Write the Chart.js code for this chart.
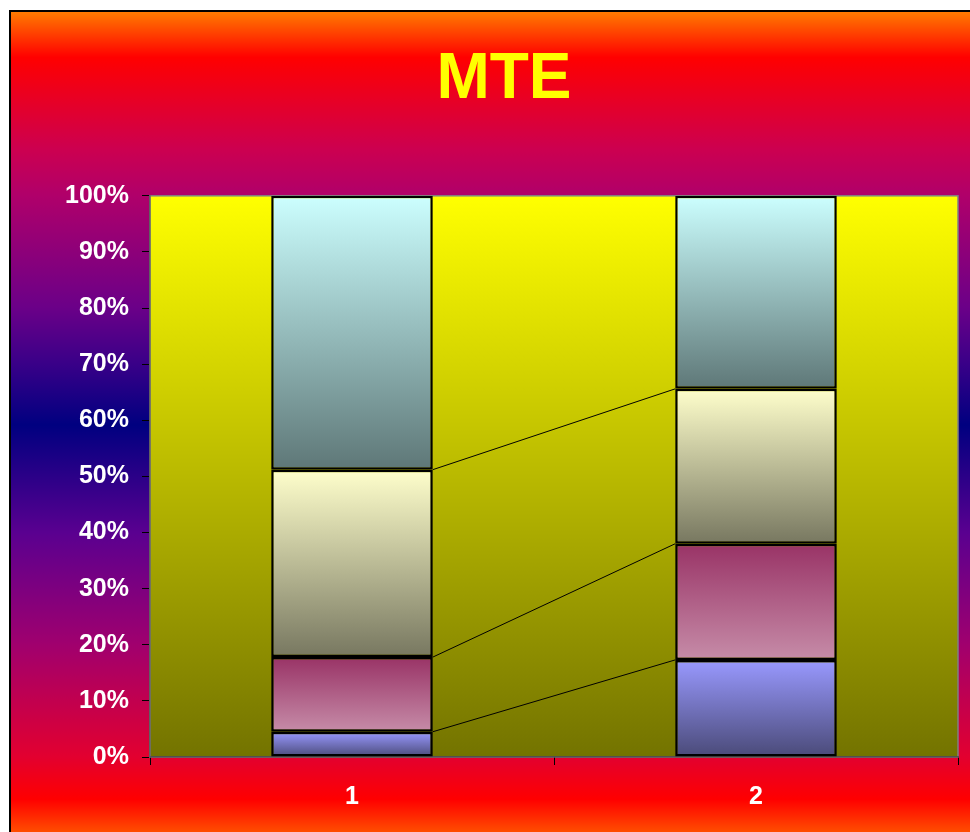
<!DOCTYPE html>
<html>
<head>
<meta charset="utf-8">
<script src="https://cdn.jsdelivr.net/npm/chart.js@4/dist/chart.umd.min.js"></script>
<style>
  html, body { margin: 0; padding: 0; background: #ffffff; overflow: hidden; width: 970px; height: 832px; }
  #c { position: absolute; left: 9px; top: 10px; }
</style>
</head>
<body>
<canvas id="c" width="990" height="830"></canvas>
<script>
// ---- data ----
const categories = ['1', '2'];
const seriesA = [4.5, 17.3];   // bottom (blue)
const seriesB = [13.3, 20.7];  // pink
const seriesC = [33.4, 27.6];  // cream
const seriesD = [48.8, 34.4];  // teal (top)
const titleText = 'MTE';
const yMin = 0, yMax = 100, yStep = 10;

// ---- styles ----
const gradStops = [
  ['#9999ff', '#4a4a78'],
  ['#993366', '#c68ca8'],
  ['#ffffcc', '#777760'],
  ['#ccffff', '#5e7777']
];
const allSeries = [seriesA, seriesB, seriesC, seriesD];

function segGradient(context) {
  const chart = context.chart;
  const ds = context.datasetIndex, i = context.dataIndex;
  const y = chart.scales.y;
  if (!chart.chartArea || !y || i === undefined) return gradStops[ds][0];
  let lo = 0;
  for (let k = 0; k < ds; k++) lo += allSeries[k][i];
  const hi = lo + allSeries[ds][i];
  const yTop = y.getPixelForValue(hi), yBot = y.getPixelForValue(lo);
  if (!isFinite(yTop) || !isFinite(yBot) || yTop === yBot) return gradStops[ds][0];
  const g = chart.ctx.createLinearGradient(0, yTop, 0, yBot);
  g.addColorStop(0, gradStops[ds][0]);
  g.addColorStop(1, gradStops[ds][1]);
  return g;
}

const bgPlugin = {
  id: 'bgPlugin',
  beforeDraw(chart) {
    const ctx = chart.ctx, W = chart.width, H = chart.height;
    ctx.save();
    const g = ctx.createLinearGradient(0, 0, 0, H);
    g.addColorStop(0.0, '#ff8000');
    g.addColorStop(0.057, '#ff0000');
    g.addColorStop(0.168, '#cc0050');
    g.addColorStop(0.223, '#b0006a');
    g.addColorStop(0.358, '#6b0088');
    g.addColorStop(0.425, '#3a0088');
    g.addColorStop(0.5, '#000080');
    g.addColorStop(0.63, '#5a0090');
    g.addColorStop(0.764, '#a0006e');
    g.addColorStop(0.899, '#e20030');
    g.addColorStop(0.951, '#ff0000');
    g.addColorStop(1.0, '#ff6000');
    ctx.fillStyle = g;
    ctx.fillRect(0, 0, W, H);
    ctx.strokeStyle = '#000000';
    ctx.lineWidth = 2;
    ctx.strokeRect(1, 1, W - 2, H - 2);
    // plot area
    const a = chart.chartArea;
    const pg = ctx.createLinearGradient(0, a.top, 0, a.bottom);
    pg.addColorStop(0, '#ffff00');
    pg.addColorStop(1, '#737300');
    ctx.fillStyle = pg;
    ctx.fillRect(a.left, a.top, a.right - a.left, a.bottom - a.top);
    ctx.strokeStyle = '#808080';
    ctx.lineWidth = 1.5;
    ctx.strokeRect(a.left, a.top, a.right - a.left, a.bottom - a.top);
    ctx.restore();
  }
};

const seriesLinePlugin = {
  id: 'seriesLines',
  afterDatasetsDraw(chart) {
    const ctx = chart.ctx, y = chart.scales.y;
    ctx.save();
    ctx.strokeStyle = '#000000';
    ctx.lineWidth = 1;
    for (let s = 0; s < allSeries.length - 1; s++) {
      const m0 = chart.getDatasetMeta(s).data[0];
      const m1 = chart.getDatasetMeta(s).data[1];
      let c0 = 0, c1 = 0;
      for (let k = 0; k <= s; k++) { c0 += allSeries[k][0]; c1 += allSeries[k][1]; }
      ctx.beginPath();
      ctx.moveTo(m0.x + m0.width / 2, y.getPixelForValue(c0));
      ctx.lineTo(m1.x - m1.width / 2, y.getPixelForValue(c1));
      ctx.stroke();
    }
    ctx.restore();
  }
};

const datasets = allSeries.map((arr, idx) => ({
  label: 'Series ' + (idx + 1),
  data: arr,
  backgroundColor: segGradient,
  borderColor: '#000000',
  borderWidth: 2.5,
  borderSkipped: false,
  barPercentage: 0.4,
  categoryPercentage: 1.0,
  yAxisID: 'y'
}));

new Chart(document.getElementById('c'), {
  type: 'bar',
  data: { labels: categories, datasets },
  plugins: [bgPlugin, seriesLinePlugin],
  options: {
    responsive: false,
    animation: false,
    devicePixelRatio: 1,
    layout: { padding: { left: 0, right: 0, top: 0, bottom: 0 } },
    plugins: {
      legend: { display: false },
      tooltip: { enabled: false },
      title: {
        display: true,
        text: titleText,
        color: '#ffff00',
        font: { family: 'Liberation Sans, Arial, sans-serif', size: 64, weight: 'bold' },
        padding: { top: 32, bottom: 77 }
      }
    },
    scales: {
      x: {
        stacked: true,
        offset: true,
        grid: { offset: true, drawOnChartArea: false, drawTicks: true, tickLength: 8, color: '#000000' },
        border: { display: true, color: '#505050', width: 1.5 },
        ticks: {
          color: '#ffffff', padding: 17,
          font: { family: 'Liberation Sans, Arial, sans-serif', size: 25, weight: 'bold' }
        },
        afterFit(s) { s.height = 83; }
      },
      y: {
        stacked: true,
        min: yMin, max: yMax,
        grid: { drawOnChartArea: false, drawTicks: true, tickLength: 8, color: '#000000' },
        border: { display: true, color: '#606060', width: 1.5 },
        ticks: {
          stepSize: yStep,
          color: '#ffffff', padding: 13,
          font: { family: 'Liberation Sans, Arial, sans-serif', size: 25, weight: 'bold' },
          callback: v => v + '%'
        },
        afterFit(s) { s.width = 141; }
      },
      yR: {
        type: 'linear',
        position: 'right',
        display: true,
        grid: { display: false },
        border: { display: false },
        ticks: { display: false },
        afterFit(s) { s.width = 41; }
      }
    }
  }
});
</script>
</body>
</html>
